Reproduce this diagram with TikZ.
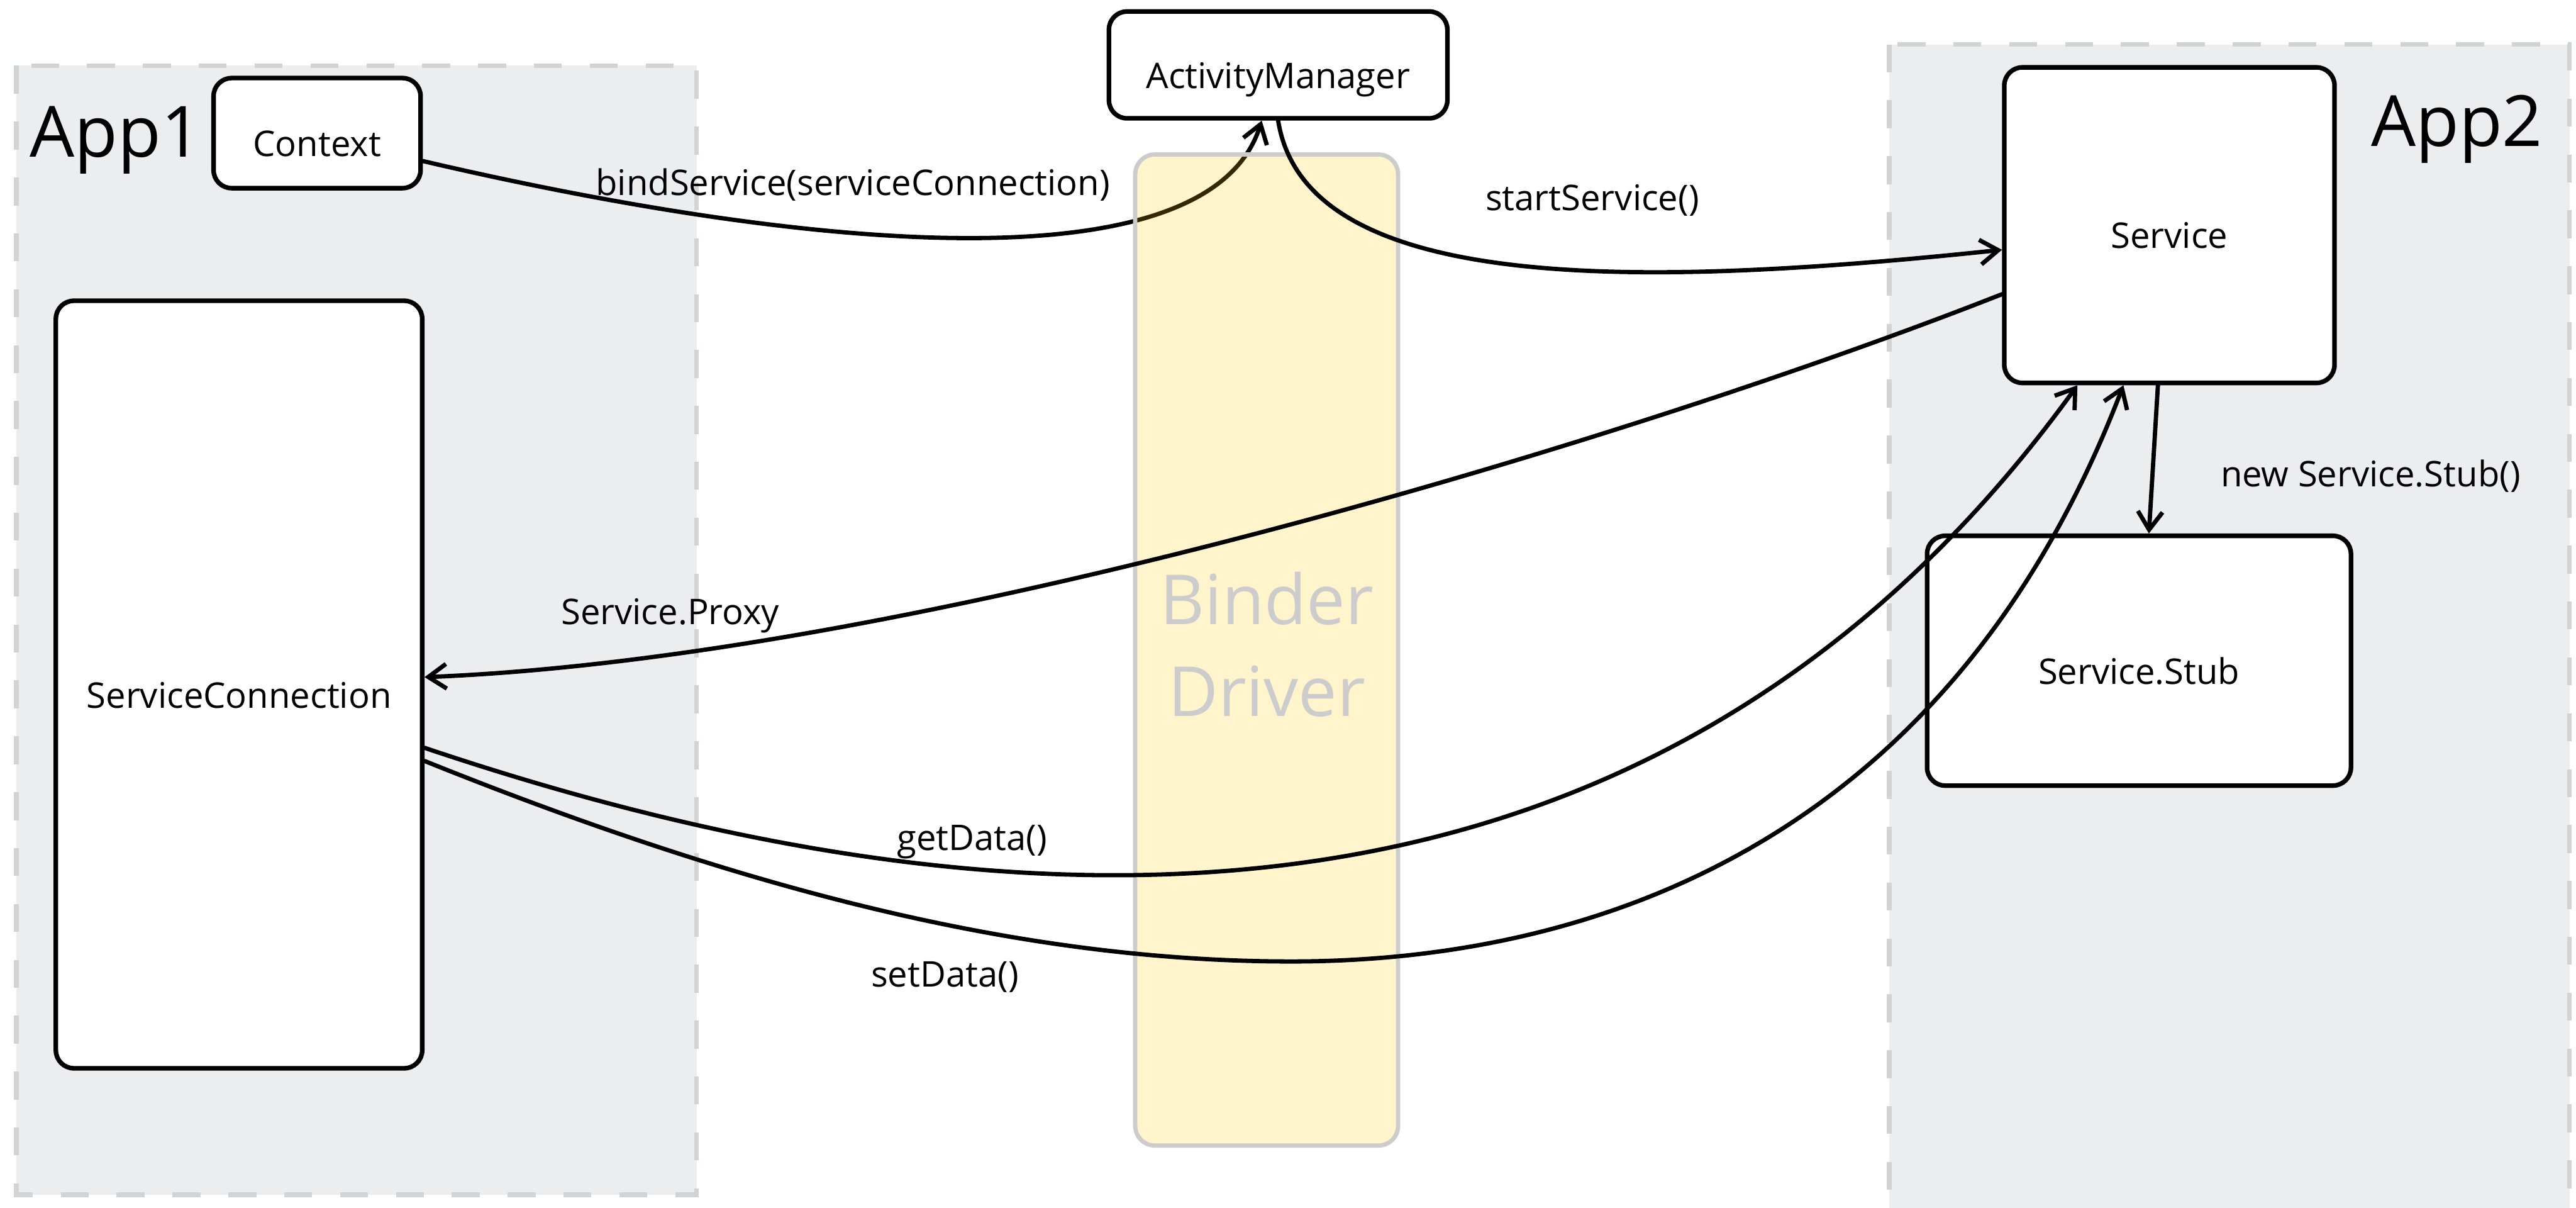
\documentclass[tikz,border=0pt]{standalone}
\usepackage{fontspec}
\setmainfont{Open Sans}
\usetikzlibrary{arrows.meta}
\definecolor{appfill}{RGB}{236,237,239}
\definecolor{appedge}{RGB}{210,211,212}
\definecolor{binderfill}{RGB}{255,204,0}
\definecolor{binderedge}{RGB}{204,204,204}

\begin{document}
\begin{tikzpicture}[x=1pt,y=-1pt,
  appzone/.style={fill=appfill, draw=appedge, line width=2.8pt, dash pattern=on 17pt off 17pt},
  compbox/.style={draw=black, fill=white, line width=2.8pt, rounded corners=11pt, inner sep=0pt,
    font=\fontsize{21.5}{26}\selectfont, text height=28.4pt, text depth=0pt},
  call/.style={line width=2.6pt, line cap=round, -{Straight Barb[length=11pt,width=15pt]}},
  calllabel/.style={anchor=base west, inner sep=0pt, font=\fontsize{21.5}{26}\selectfont},
  applabel/.style={anchor=base west, inner sep=0pt, font=\fontsize{43}{50}\selectfont}]

\useasboundingbox (0,0) rectangle (1568,735);
\fill[white] (0,0) rectangle (1568,735);

% application zones
\draw[appzone] (10,40) rectangle (424,727);
\draw[appzone] (1150,27) rectangle (1564,780);
\node[applabel] (app1) at (18,95.4) {App1};
\node[applabel] (app2) at (1443,89) {App2};

% components
\node[compbox, minimum width=126pt, minimum height=67pt] (ctx) at (193,81) {Context};
\node[compbox, minimum width=206pt, minimum height=65pt] (am) at (778,39.5) {ActivityManager};
\node[compbox, minimum width=223pt, minimum height=467pt] (sc) at (145.5,416.5) {ServiceConnection};
\node[compbox, minimum width=201pt, minimum height=192pt] (svc) at (1320.5,137) {Service};
\node[compbox, minimum width=258pt, minimum height=152pt] (stub) at (1302,402) {Service.Stub};

% bind request passes under the translucent driver column
\draw[call] ([yshift=-17pt]ctx.east) .. controls (480,150) and (735,178) .. ([xshift=-10pt]am.south);

% binder driver column
\node[draw=binderedge, fill=binderfill, fill opacity=0.2, text opacity=1, line width=2.6pt,
  rounded corners=12pt, minimum width=160pt, minimum height=603pt, inner sep=0pt] (binder) at (771,395.5) {};
\node[text=binderedge, align=center, font=\fontsize{42}{56}\selectfont, inner sep=0pt] (binderlabel) at (771,392) {Binder\\Driver};

% calls
\draw[call] (am.south) .. controls (795,180) and (1000,175) .. ([yshift=-15pt]svc.west);
\draw[call] ([yshift=-42pt]svc.west) .. controls (1000,265) and (560,400) .. ([yshift=4.5pt]sc.east);
\draw[call] ([yshift=-38.5pt]sc.east) .. controls (600,570) and (1000,600) .. ([xshift=-56pt]svc.south);
\coordinate (setmid) at (786,585);
\draw[call] ([yshift=-46.5pt]sc.east) .. controls (450,540) and (620,585) .. (setmid)
  .. controls (960,585) and (1183,520) .. ([xshift=-28pt]svc.south);
\draw[call] ([xshift=-7pt]svc.south) -- ([xshift=6pt]stub.north);

% call labels
\node[calllabel] (lbind) at (362.5,118.8) {bindService(serviceConnection)};
\node[calllabel] (lstart) at (904,128.2) {startService()};
\node[calllabel] (lstub) at (1351.5,296) {new Service.Stub()};
\node[calllabel] (lproxy) at (341.4,379.8) {Service.Proxy};
\node[calllabel] (lget) at (545.8,517.3) {getData()};
\node[calllabel] (lset) at (530,600.6) {setData()};
\end{tikzpicture}
\end{document}
